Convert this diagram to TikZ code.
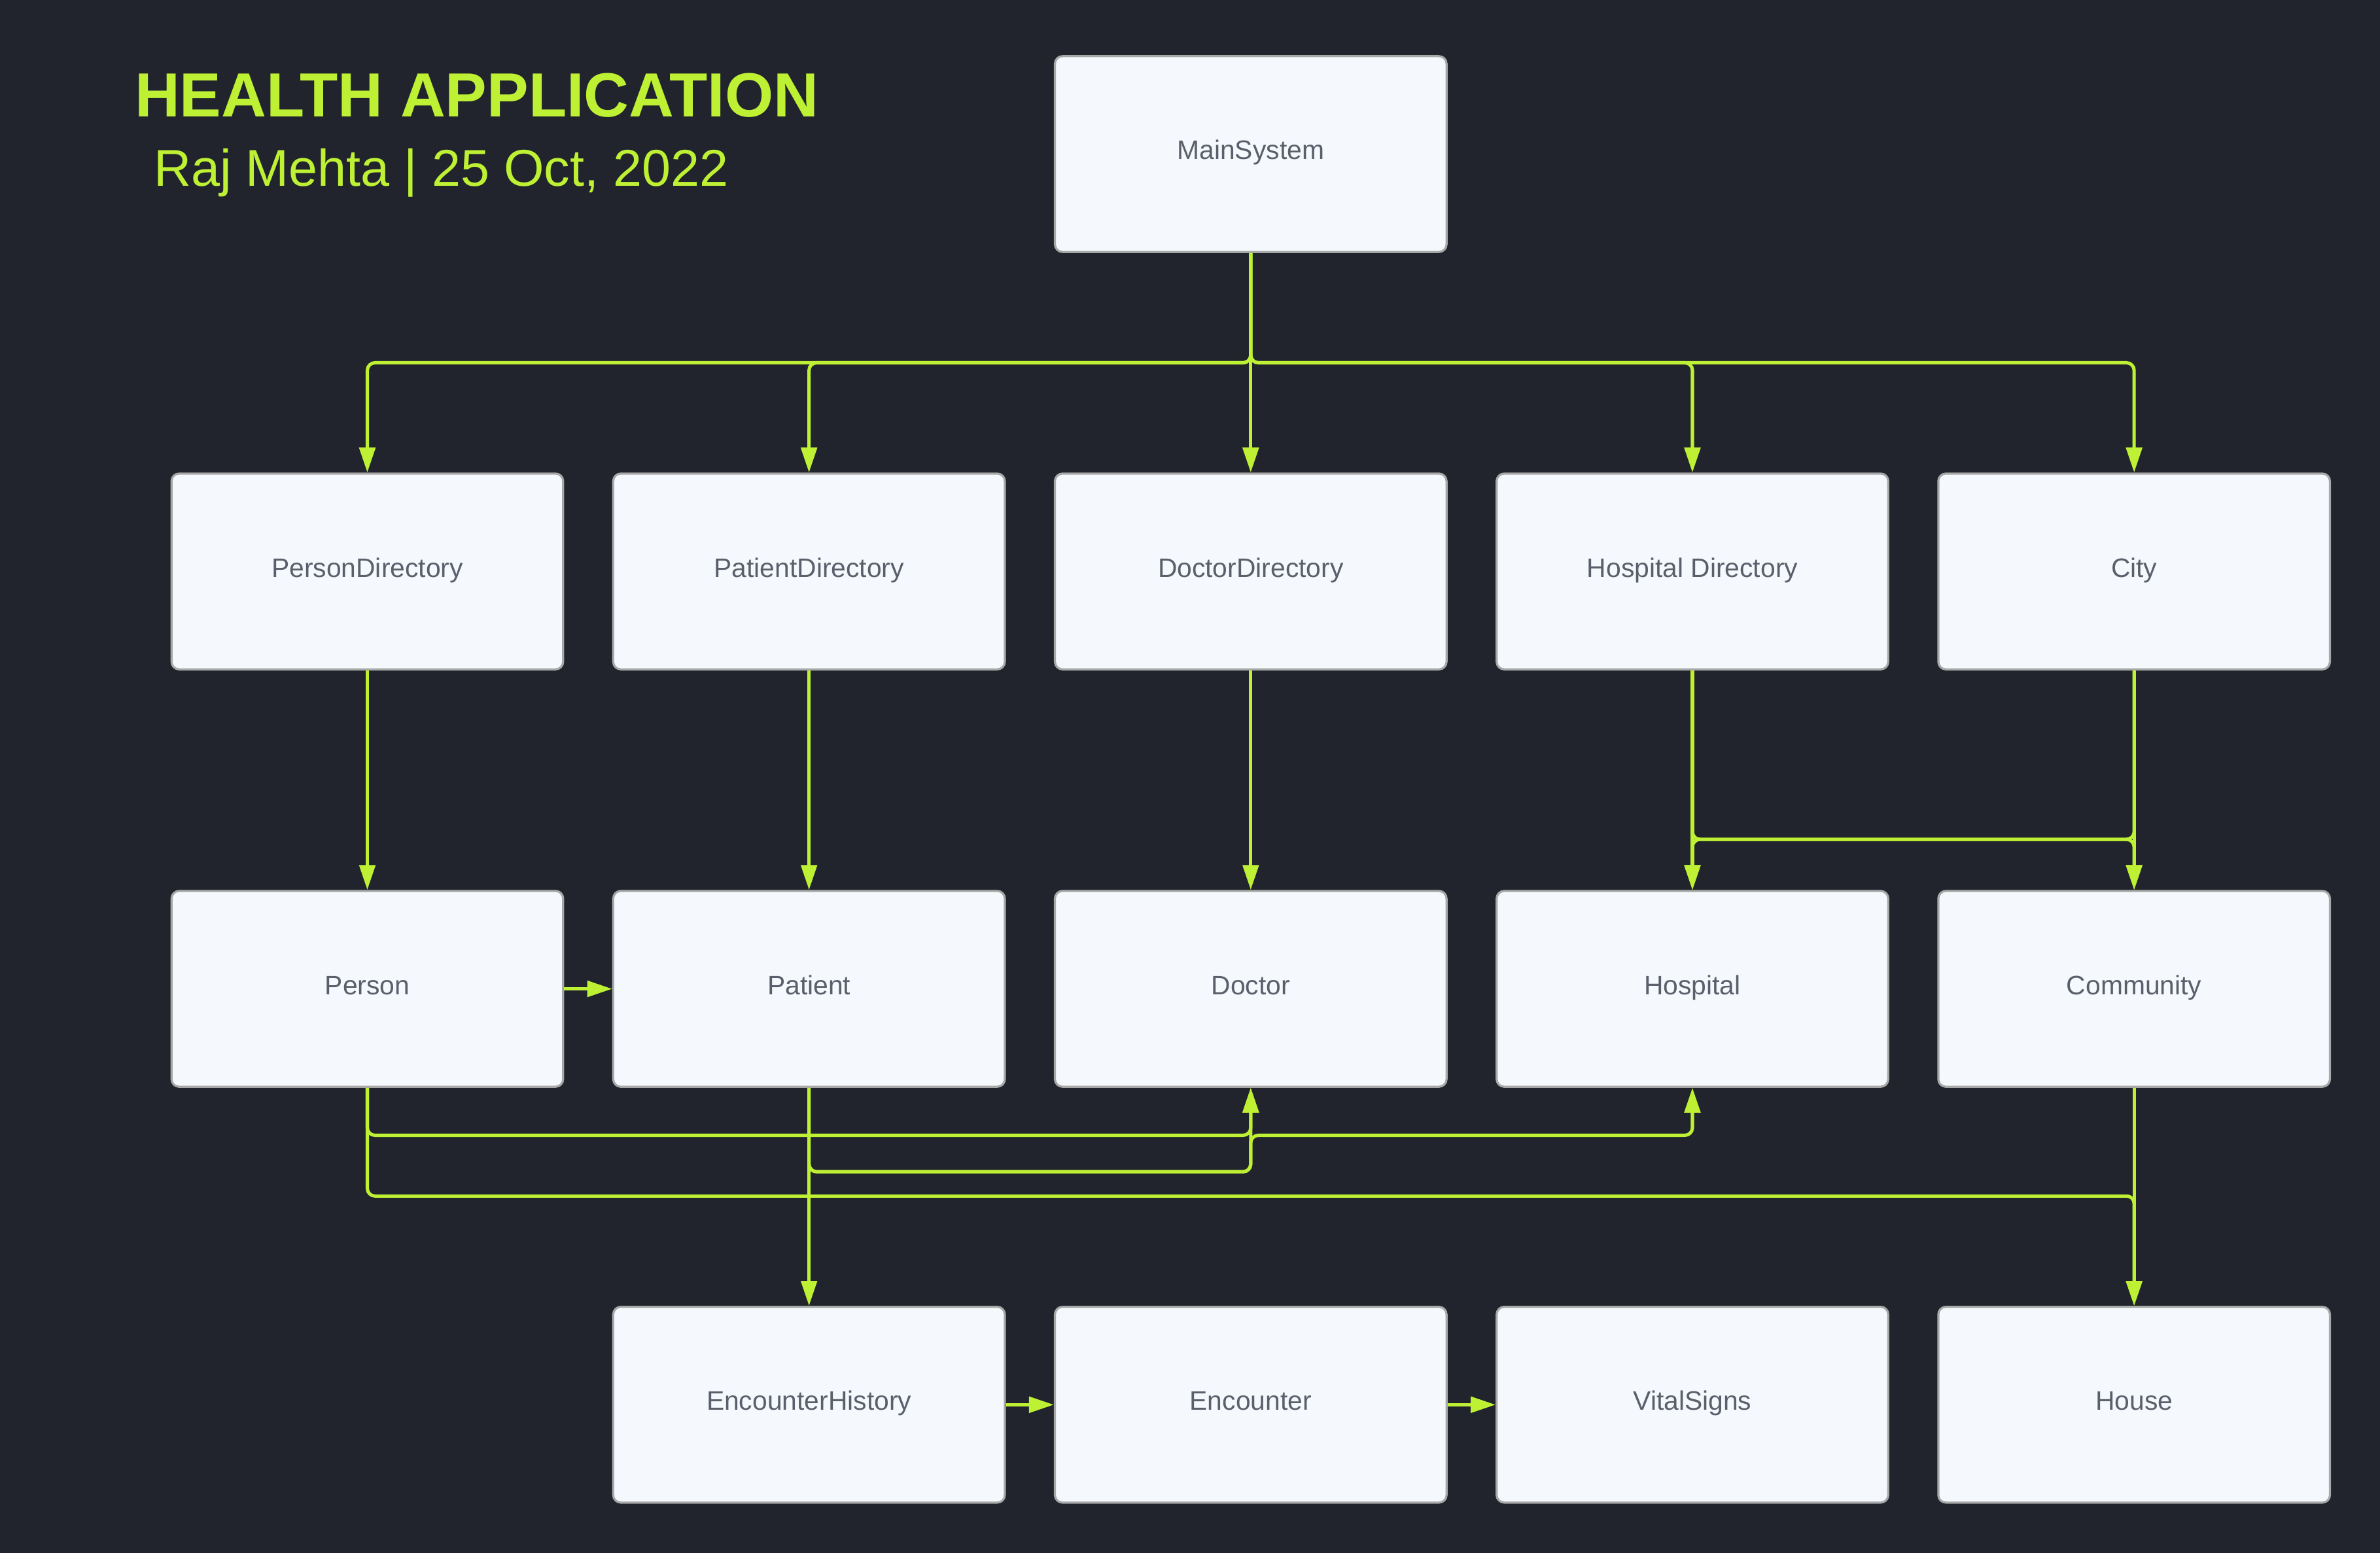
\documentclass[tikz,border=0pt]{standalone}
\usepackage{fontspec}
\setmainfont{Liberation Sans}
\usetikzlibrary{arrows.meta}

\definecolor{bgdark}{HTML}{21242D}
\definecolor{lime}{HTML}{BEF034}
\definecolor{boxfill}{HTML}{F5F9FD}
\definecolor{boxline}{HTML}{A8A8A8}
\definecolor{boxtext}{HTML}{5B5F6B}

\tikzset{
  classbox/.style={draw=boxline, line width=0.7pt, fill=boxfill, rounded corners=2.5pt,
    minimum width=129pt, minimum height=64.5pt, inner sep=0pt,
    text height=0.75em, text depth=0.384em,
    text=boxtext, font=\fontsize{8.8}{10}\selectfont},
  conn/.style={draw=lime, line width=1.1pt, rounded corners=2.5pt,
    -{Triangle[length=8.2pt,width=5.2pt]}},
}

\begin{document}
\begin{tikzpicture}[x=0.5pt, y=-0.5pt]
  % canvas
  \path[use as bounding box, fill=bgdark] (0,0) rectangle (1568,1023.2);

  % heading
  \node[anchor=base west, inner sep=0pt, text=lime,
        font=\fontsize{20.55}{24}\selectfont\bfseries] (title) at (88.4,76.8) {HEALTH APPLICATION};
  \node[anchor=base west, inner sep=0pt, text=lime,
        font=\fontsize{17.05}{20}\selectfont] (byline) at (101,122.8) {Raj Mehta | 25 Oct, 2022};

  % top level
  \node[classbox] (main) at (824,101.5) {MainSystem};

  % directories
  \node[classbox] (pdir)  at (242,376.5)  {PersonDirectory};
  \node[classbox] (padir) at (533,376.5)  {PatientDirectory};
  \node[classbox] (ddir)  at (824,376.5)  {DoctorDirectory};
  \node[classbox] (hdir)  at (1115,376.5) {Hospital Directory};
  \node[classbox] (city)  at (1406,376.5) {City};

  % entities
  \node[classbox] (person)  at (242,651.5)  {Person};
  \node[classbox] (patient) at (533,651.5)  {Patient};
  \node[classbox] (doctor)  at (824,651.5)  {Doctor};
  \node[classbox] (hosp)    at (1115,651.5) {Hospital};
  \node[classbox] (comm)    at (1406,651.5) {Community};

  % lower level
  \node[classbox] (enchist) at (533,925.5)  {EncounterHistory};
  \node[classbox] (enc)     at (824,925.5)  {Encounter};
  \node[classbox] (vital)   at (1115,925.5) {VitalSigns};
  \node[classbox] (house)   at (1406,925.5) {House};

  % routing levels
  \coordinate (busY)   at (0,239);
  \coordinate (crossY) at (0,553);
  \coordinate (pdY)    at (0,748);
  \coordinate (ptY)    at (0,772);
  \coordinate (phY)    at (0,788);

  % MainSystem to directories
  \draw[conn] (main.south) -- (main.south |- busY) -| (pdir.north);
  \draw[conn] (main.south) -- (main.south |- busY) -| (padir.north);
  \draw[conn] (main.south) -- (ddir.north);
  \draw[conn] (main.south) -- (main.south |- busY) -| (hdir.north);
  \draw[conn] (main.south) -- (main.south |- busY) -| (city.north);

  % directories to entities
  \draw[conn] (pdir.south)  -- (person.north);
  \draw[conn] (padir.south) -- (patient.north);
  \draw[conn] (ddir.south)  -- (doctor.north);
  \draw[conn] (hdir.south)  -- (hosp.north);
  \draw[conn] (city.south)  -- (comm.north);
  \draw[conn] (hdir.south) -- (hdir.south |- crossY) -| (comm.north);
  \draw[conn] (city.south) -- (city.south |- crossY) -| (hosp.north);

  % between entities
  \draw[conn] (person.east) -- (patient.west);
  \draw[conn] (person.south) -- (person.south |- pdY) -| (doctor.south);
  \draw[conn] (patient.south) -- (patient.south |- ptY) -| (doctor.south);
  \draw[conn] (patient.south) -- (patient.south |- ptY) -| (doctor.south |- pdY) -| (hosp.south);
  \draw[conn] (person.south) -- (person.south |- phY) -| (house.north);
  \draw[conn] (comm.south) -- (house.north);

  % lower level
  \draw[conn] (patient.south) -- (enchist.north);
  \draw[conn] (enchist.east) -- (enc.west);
  \draw[conn] (enc.east) -- (vital.west);
\end{tikzpicture}
\end{document}
